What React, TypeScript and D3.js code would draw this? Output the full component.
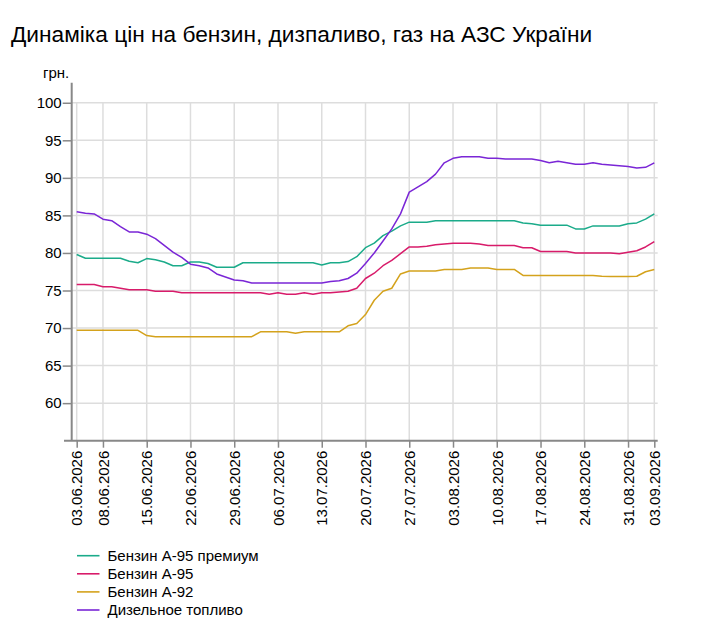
import React, { useEffect, useRef } from 'react';
import * as d3 from 'd3';

// Trading days (weekdays) 03.06.2026 .. 03.09.2026
const startDate = new Date(2026, 5, 3);
const endDate = new Date(2026, 8, 4);
const dates: Date[] = d3.timeDay.range(startDate, endDate).filter(d => d.getDay() !== 0 && d.getDay() !== 6);

const tickLabels = [
  '03.06.2026', '08.06.2026', '15.06.2026', '22.06.2026', '29.06.2026', '06.07.2026', '13.07.2026',
  '20.07.2026', '27.07.2026', '03.08.2026', '10.08.2026', '17.08.2026', '24.08.2026', '31.08.2026', '03.09.2026',
];

const yTicks = [60, 65, 70, 75, 80, 85, 90, 95, 100];

const premium95 = [
  79.8, 79.3, 79.3, 79.3, 79.3, 79.3, 78.9, 78.7, 79.25, 79.1,
  78.8, 78.3, 78.3, 78.8, 78.8, 78.6, 78.1, 78.1, 78.1, 78.7,
  78.7, 78.7, 78.7, 78.7, 78.7, 78.7, 78.7, 78.7, 78.4, 78.7,
  78.7, 78.85, 79.5, 80.7, 81.3, 82.3, 82.9, 83.6, 84.1, 84.1,
  84.1, 84.3, 84.3, 84.3, 84.3, 84.3, 84.3, 84.3, 84.3, 84.3,
  84.3, 84.0, 83.9, 83.7, 83.7, 83.7, 83.7, 83.2, 83.2, 83.6,
  83.6, 83.6, 83.6, 83.9, 84.0, 84.5, 85.2,
];

const petrol95 = [
  75.8, 75.8, 75.8, 75.5, 75.5, 75.3, 75.1, 75.1, 75.1, 74.9,
  74.9, 74.9, 74.7, 74.7, 74.7, 74.7, 74.7, 74.7, 74.7, 74.7,
  74.7, 74.7, 74.5, 74.7, 74.5, 74.5, 74.7, 74.5, 74.7, 74.7,
  74.8, 74.9, 75.3, 76.6, 77.3, 78.3, 79.0, 79.9, 80.8, 80.8,
  80.9, 81.1, 81.2, 81.3, 81.3, 81.3, 81.2, 81.0, 81.0, 81.0,
  81.0, 80.7, 80.7, 80.2, 80.2, 80.2, 80.2, 80.0, 80.0, 80.0,
  80.0, 80.0, 79.9, 80.1, 80.3, 80.8, 81.5,
];

const petrol92 = [
  69.7, 69.7, 69.7, 69.7, 69.7, 69.7, 69.7, 69.7, 69.0, 68.85,
  68.85, 68.85, 68.85, 68.85, 68.85, 68.85, 68.85, 68.85, 68.85, 68.85,
  68.85, 69.5, 69.5, 69.5, 69.5, 69.3, 69.5, 69.5, 69.5, 69.5,
  69.5, 70.3, 70.6, 71.8, 73.7, 74.9, 75.3, 77.2, 77.6, 77.6,
  77.6, 77.6, 77.8, 77.8, 77.8, 78.0, 78.0, 78.0, 77.8, 77.8,
  77.8, 77.0, 77.0, 77.0, 77.0, 77.0, 77.0, 77.0, 77.0, 77.0,
  76.9, 76.85, 76.85, 76.85, 76.9, 77.5, 77.8,
];

const diesel = [
  85.5, 85.3, 85.2, 84.5, 84.3, 83.5, 82.8, 82.8, 82.5, 81.9,
  81.0, 80.1, 79.4, 78.5, 78.3, 78.0, 77.2, 76.8, 76.4, 76.3,
  76.0, 76.0, 76.0, 76.0, 76.0, 76.0, 76.0, 76.0, 76.0, 76.2,
  76.3, 76.6, 77.3, 78.6, 80.0, 81.6, 83.2, 85.2, 88.1, 88.8,
  89.5, 90.5, 92.0, 92.6, 92.8, 92.8, 92.8, 92.6, 92.6, 92.5,
  92.5, 92.5, 92.5, 92.3, 92.0, 92.2, 92.0, 91.8, 91.8, 92.0,
  91.8, 91.7, 91.6, 91.5, 91.3, 91.4, 92.0,
];

const seriesNames = ['Бензин А-95 премиум', 'Бензин А-95', 'Бензин А-92', 'Дизельное топливо'];
const seriesColors = ['#1bab8a', '#d81b6a', '#d4a21c', '#7a26d6'];
const seriesValues = [premium95, petrol95, petrol92, diesel];

const fmt = d3.timeFormat('%d.%m.%Y');

const App: React.FC = () => {
  const svgRef = useRef<SVGSVGElement>(null);

  useEffect(() => {
    if (!svgRef.current) return;
    const svg = d3.select(svgRef.current);
    svg.selectAll('*').remove();

    const font = 'Arial, "Liberation Sans", sans-serif';
    const keys = dates.map(fmt);

    const x = d3.scalePoint<string>().domain(keys).range([76.7, 654.3]);
    const y = d3.scaleLinear().domain([55, 102.67]).range([440.7, 82.7]);
    const axisLeftX = 71.7;
    const gridRight = 657.7;

    // Title
    svg.append('text')
      .attr('x', 11)
      .attr('y', 42)
      .style('font-family', font)
      .style('font-size', '22.7px')
      .style('fill', '#000')
      .text('Динаміка цін на бензин, дизпаливо, газ на АЗС України');

    // Grid
    const grid = svg.append('g');
    grid.selectAll('line.h')
      .data(yTicks)
      .enter()
      .append('line')
      .attr('x1', axisLeftX)
      .attr('x2', gridRight)
      .attr('y1', d => y(d))
      .attr('y2', d => y(d))
      .attr('stroke', '#dddddd')
      .attr('stroke-width', 1.5);

    grid.selectAll('line.v')
      .data(tickLabels)
      .enter()
      .append('line')
      .attr('x1', d => x(d) as number)
      .attr('x2', d => x(d) as number)
      .attr('y1', y(100))
      .attr('y2', y(55))
      .attr('stroke', '#dddddd')
      .attr('stroke-width', 1.5);

    // Lines
    const line = d3.line<number>()
      .x((_, i) => x(keys[i]) as number)
      .y(d => y(d));

    seriesValues.forEach((vals, k) => {
      svg.append('path')
        .datum(vals)
        .attr('fill', 'none')
        .attr('stroke', seriesColors[k])
        .attr('stroke-width', 1.5)
        .attr('stroke-linejoin', 'round')
        .attr('d', line);
    });

    // Y axis
    const yAxis = svg.append('g')
      .attr('transform', `translate(${axisLeftX},0)`)
      .call(d3.axisLeft(y).tickValues(yTicks).tickSize(9).tickPadding(1));
    yAxis.select('.domain')
      .attr('d', `M0,${y(102.67)}V${y(55)}`)
      .attr('stroke', '#888')
      .attr('stroke-width', 2);
    yAxis.selectAll('.tick line').attr('stroke', '#888').attr('stroke-width', 1.5);
    yAxis.selectAll('.tick text')
      .style('font-family', font)
      .style('font-size', '15px')
      .attr('fill', '#000');

    // X axis
    const xAxis = svg.append('g')
      .attr('transform', `translate(0,${y(55)})`)
      .call(d3.axisBottom(x).tickValues(tickLabels).tickSize(7));
    xAxis.select('.domain')
      .attr('d', `M64,0H${gridRight}`)
      .attr('stroke', '#888')
      .attr('stroke-width', 2);
    xAxis.selectAll('.tick line').attr('stroke', '#888').attr('stroke-width', 1.5);
    xAxis.selectAll('.tick text')
      .style('font-family', font)
      .style('font-size', '15px')
      .attr('fill', '#000')
      .attr('text-anchor', 'end')
      .attr('transform', 'rotate(-90)')
      .attr('x', -10)
      .attr('y', 0)
      .attr('dy', '0.35em');

    // Unit label
    svg.append('text')
      .attr('x', 43)
      .attr('y', 78)
      .style('font-family', font)
      .style('font-size', '15px')
      .style('fill', '#000')
      .text('грн.');

    // Legend
    const legend = svg.append('g');
    seriesNames.forEach((name, i) => {
      const row = legend.append('g').attr('transform', `translate(0, ${555.7 + i * 18.1})`);
      row.append('line')
        .attr('x1', 77)
        .attr('x2', 99.5)
        .attr('y1', 0)
        .attr('y2', 0)
        .attr('stroke', seriesColors[i])
        .attr('stroke-width', 1.6);
      row.append('text')
        .attr('x', 107.5)
        .attr('y', 0)
        .attr('dy', '0.35em')
        .style('font-family', font)
        .style('font-size', '15px')
        .style('fill', '#000')
        .text(name);
    });
  }, []);

  return (
    <svg
      ref={svgRef}
      width={703}
      height={629}
      style={{ position: 'absolute', left: 0, top: 0, background: '#fff' }}
    />
  );
};

export default App;
